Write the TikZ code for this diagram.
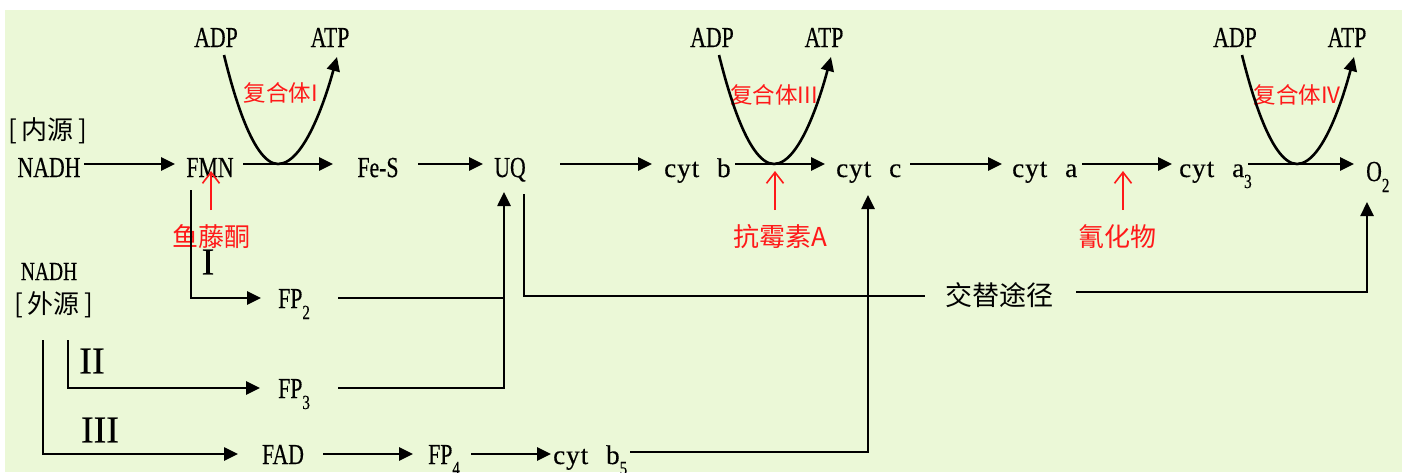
\documentclass[tikz,border=0pt]{standalone}
\usepackage{fontspec}
\setmainfont{Liberation Serif}
\newfontfamily\lat[FakeStretch=0.75,FakeBold=0.4]{Liberation Serif}
\newfontfamily\latw[FakeBold=0.4]{Liberation Serif}
\newfontfamily\cjk{Noto Sans CJK SC}
\usetikzlibrary{arrows.meta}
\definecolor{bggreen}{RGB}{235,248,215}
\definecolor{myred}{RGB}{255,25,25}
\newcommand{\mysub}[1]{\raisebox{-11pt}{\fontsize{20}{20}\selectfont #1}}
\newcommand{\cytlbl}[1]{{\latw\fontsize{27}{27}\selectfont c\kern1pt y\kern1pt t\hspace{18pt}#1}}
\begin{document}
\begin{tikzpicture}[x=1pt,y=-1pt,
  lbl/.style={inner sep=0pt, font=\lat\fontsize{29}{29}\selectfont},
  cjklbl/.style={inner sep=0pt, font=\cjk\fontsize{26}{26}\selectfont},
  redlbl/.style={inner sep=0pt, text=myred, font=\cjk\fontsize{26}{26}\selectfont},
  cplx/.style={inner sep=0pt, text=myred, font=\cjk\fontsize{22.5}{22.5}\selectfont},
  roman/.style={inner sep=0pt, font=\latw\fontsize{38}{38}\selectfont},
  conn/.style={line width=2.6pt, black},
  arr/.style={conn, -{Triangle[length=14pt,width=13pt]}},
  redarr/.style={line width=1.6pt, myred, -{Straight Barb[length=11pt,width=17pt]}},
]
\fill[white] (0,0) rectangle (1407,472);
\fill[bggreen] (5,10) rectangle (1402,472);
\useasboundingbox (0,0) rectangle (1407,472);

% main row
\node[lbl,anchor=base] (nadh) at (49,177) {NADH};
\node[lbl,anchor=base] (fmn) at (210,177) {FMN};
\node[lbl,anchor=base] (fes) at (378,177) {Fe-S};
\node[lbl,anchor=base] (uq) at (510,177) {UQ};
\node[lbl,anchor=base west] (cytb) at (664,177) {\cytlbl{b}};
\node[lbl,anchor=base west] (cytc) at (836,177) {\cytlbl{c}};
\node[lbl,anchor=base west] (cyta) at (1012,177) {\cytlbl{a}};
\node[lbl,anchor=base west] (cyta3) at (1179,177) {\cytlbl{a}\mysub{3}};
\node[lbl,anchor=base west] (o2) at (1366,181) {O\mysub{2}};

% ADP / ATP
\node[lbl,anchor=base] (adp1) at (216,47) {ADP};
\node[lbl,anchor=base] (atp1) at (330,47) {ATP};
\node[lbl,anchor=base] (adp3) at (712,47) {ADP};
\node[lbl,anchor=base] (atp3) at (824,47) {ATP};
\node[lbl,anchor=base] (adp4) at (1235,47) {ADP};
\node[lbl,anchor=base] (atp4) at (1347,47) {ATP};

\node[cplx] (cx1) at (281,93) {复合体I};
\node[cplx] (cx3) at (774,95) {复合体III};
\node[cplx] (cx4) at (1297,95) {复合体IV};

\node[cjklbl] (nei) at (48,131) {[\,内源\,]};

% lower
\node[lbl,anchor=base,font=\lat\fontsize{26}{26}\selectfont] (nadh2) at (49,280) {NADH};
\node[cjklbl] (wai) at (54,305) {[\,外源\,]};
\node[lbl,anchor=base west] (fp2) at (278,308) {FP\mysub{2}};
\node[lbl,anchor=base west] (fp3) at (278,398) {FP\mysub{3}};
\node[lbl,anchor=base] (fad) at (283,464) {FAD};
\node[lbl,anchor=base west] (fp4) at (428,464) {FP\mysub{4}};
\node[lbl,anchor=base west] (cytb5) at (553,464) {\cytlbl{b}\mysub{5}};
\node[cjklbl,font=\cjk\fontsize{27}{27}\selectfont] (alt) at (999,295) {交替途径};

\node[roman] (r1) at (208,262) {I};
\node[roman] (r2) at (92,361) {II};
\node[roman] (r3) at (100,430) {III};

\node[redlbl] (rot) at (211,237) {鱼藤酮};
\node[redlbl] (anti) at (780,237) {抗霉素A};
\node[redlbl] (cyan) at (1117,237) {氰化物};

% main arrows
\draw[arr] ([shift={(35,-13)}]nadh.base) -- ([shift={(-35,-13)}]fmn.base);
\draw[arr] ([shift={(33,-13)}]fmn.base) -- ([shift={(-45,-13)}]fes.base);
\draw[arr] ([shift={(40,-13)}]fes.base) -- ([shift={(-27,-13)}]uq.base);
\draw[arr] ([shift={(50,-13)}]uq.base) -- ([shift={(-12,-13)}]cytb.base west);
\draw[arr] ([shift={(71,-13)}]cytb.base west) -- ([shift={(-11,-13)}]cytc.base west);
\draw[arr] ([shift={(74,-13)}]cytc.base west) -- ([shift={(-10,-13)}]cyta.base west);
\draw[arr] ([shift={(70,-13)}]cyta.base west) -- ([shift={(-7,-13)}]cyta3.base west);
\draw[arr] ([shift={(69,-13)}]cyta3.base west) -- ([shift={(-12,-17)}]o2.base west);

% parabolas
\draw[arr] ([shift={(8,8)}]adp1.base) parabola bend (278,164) ([shift={(7,10)}]atp1.base);
\draw[arr] ([shift={(7,8)}]adp3.base) parabola bend (774,164) ([shift={(7,10)}]atp3.base);
\draw[arr] ([shift={(7,8)}]adp4.base) parabola bend (1297,164) ([shift={(7,10)}]atp4.base);

% lower connectors
\draw[arr] ([shift={(-19,13)}]fmn.base) |- ([shift={(-17,-10)}]fp2.base west);
\draw[arr] ([shift={(60,-10)}]fp2.base west) -| ([shift={(-6,15)}]uq.base);
\draw[conn] ([shift={(60,-10)}]fp3.base west) -| ([shift={(-6,121)}]uq.base);
\draw[arr] ([shift={(14,35)}]wai.center) |- ([shift={(-18,-10)}]fp3.base west);
\draw[arr] ([shift={(-11,35)}]wai.center) |- ([shift={(-45,-10)}]fad.base);
\draw[arr] ([shift={(40,-10)}]fad.base) -- ([shift={(-15,-10)}]fp4.base west);
\draw[arr] ([shift={(43,-10)}]fp4.base west) -- ([shift={(-2,-10)}]cytb5.base west);
\draw[arr] ([shift={(77,-12)}]cytb5.base west) -| ([shift={(32,18)}]cytc.base west);
\draw[conn] ([shift={(14,17)}]uq.base) |- ([shift={(-20,1)}]alt.west);
\draw[arr] ([shift={(23,-3)}]alt.east) -| ([shift={(1,21)}]o2.base west);

% inhibitors
\draw[redarr] ([shift={(0,-27)}]rot.center) -- ([shift={(1,-6)}]fmn.base);
\draw[redarr] ([shift={(-5,-27)}]anti.center) -- ([shift={(111,-6)}]cytb.base west);
\draw[redarr] ([shift={(6,-27)}]cyan.center) -- ([shift={(111,-6)}]cyta.base west);
\end{tikzpicture}
\end{document}
